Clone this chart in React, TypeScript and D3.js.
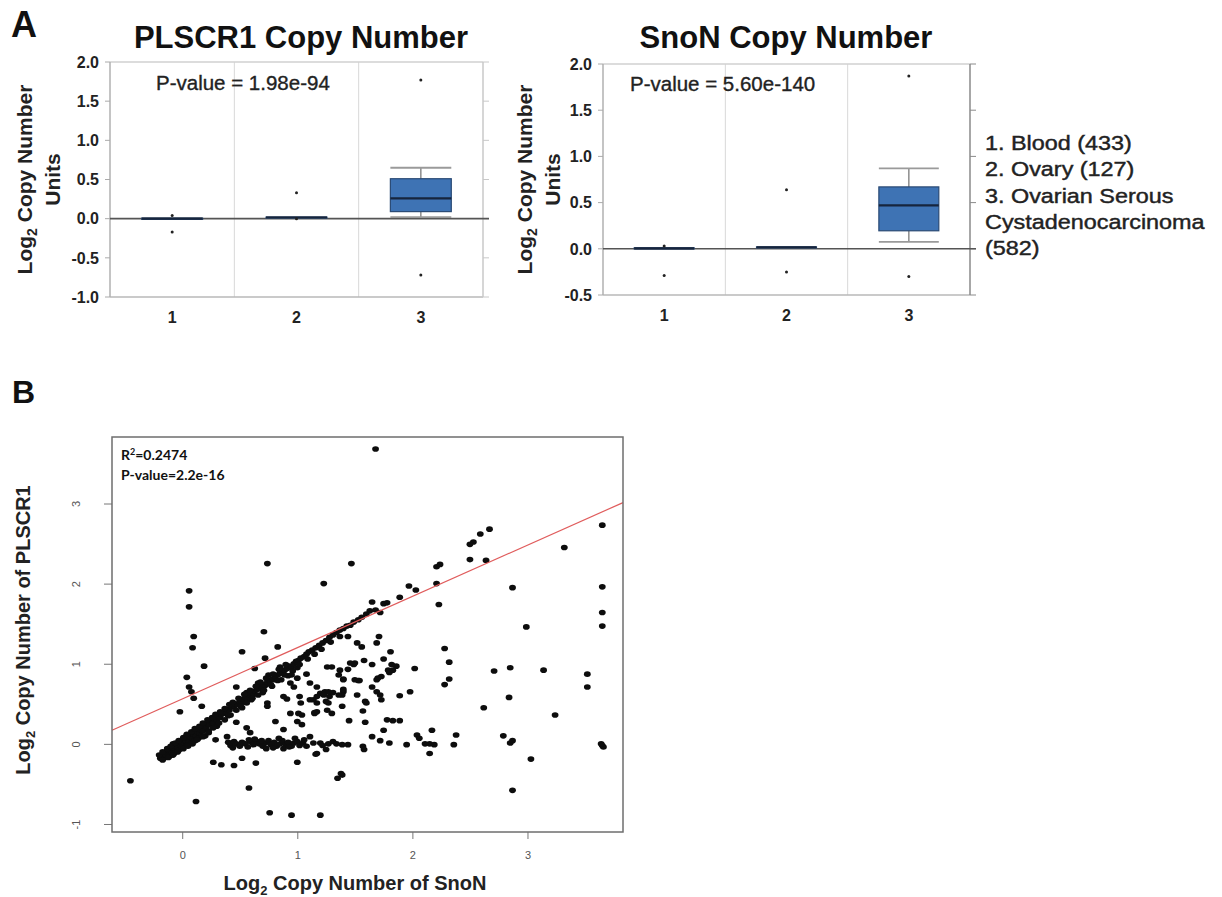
import { useEffect, useRef } from "react"
import * as d3 from "d3"

const FONT = "'Liberation Sans', Arial, Helvetica, sans-serif"

// ---- Panel A: box plots ----
const categories = ["1", "2", "3"]
const yTicksPlscr1 = [-1, -0.5, 0, 0.5, 1, 1.5, 2]
const yTicksSnon = [-0.5, 0, 0.5, 1, 1.5, 2]

// lo/hi = whisker ends, q1/med/q3 = box, out = outlier dots
const plscr1Stats = [
  { cat: "1", lo: -0.005, q1: -0.005, med: 0, q3: 0.005, hi: 0.005, out: [0.04, -0.17] },
  { cat: "2", lo: 0.01, q1: 0.01, med: 0.015, q3: 0.02, hi: 0.02, out: [0.33, 0.0] },
  { cat: "3", lo: 0.02, q1: 0.09, med: 0.26, q3: 0.51, hi: 0.65, out: [1.77, -0.72] },
]
const snonStats = [
  { cat: "1", lo: 0.0, q1: 0.0, med: 0.005, q3: 0.01, hi: 0.01, out: [0.03, -0.29] },
  { cat: "2", lo: 0.01, q1: 0.01, med: 0.015, q3: 0.02, hi: 0.02, out: [0.64, -0.25] },
  { cat: "3", lo: 0.075, q1: 0.195, med: 0.47, q3: 0.67, hi: 0.87, out: [1.87, -0.3] },
]
const legendLines = ["1. Blood (433)", "2. Ovary (127)", "3. Ovarian Serous", "Cystadenocarcinoma", "(582)"]

// ---- Panel B: scatter, [SnoN, PLSCR1] ----
const snonDomain = [-0.61, 3.83]
const plscr1Domain = [-1.1, 3.83]
const xTicksB = [0, 1, 2, 3]
const yTicksB = [-1, 0, 1, 2, 3]
const fitIntercept = 0.56
const fitSlope = 0.64

const diagonalPoints = [
  [-0.19, -0.18], [-0.18, -0.15], [-0.16, -0.13], [-0.15, -0.17], [-0.13, -0.1], [-0.12, -0.12], [-0.1, -0.08],
  [-0.09, -0.11], [-0.08, -0.05], [-0.06, -0.07], [-0.05, -0.02], [-0.04, -0.05], [-0.02, 0.0], [-0.01, -0.03],
  [0.0, 0.02], [0.01, 0.05], [0.02, 0.0], [0.03, 0.04], [0.05, 0.06], [0.06, 0.02], [0.07, 0.09], [0.09, 0.07],
  [0.1, 0.12], [0.12, 0.1], [0.13, 0.15], [0.15, 0.13], [0.16, 0.18], [0.18, 0.16], [0.19, 0.22], [0.21, 0.2],
  [0.22, 0.25], [0.24, 0.24], [0.25, 0.28], [0.27, 0.26], [0.28, 0.31], [0.3, 0.3], [0.31, 0.34], [0.33, 0.33],
  [0.34, 0.37], [0.36, 0.38], [0.38, 0.4], [0.39, 0.43], [0.41, 0.42], [0.43, 0.46], [0.45, 0.47], [0.46, 0.5],
  [0.48, 0.49], [0.5, 0.53], [0.52, 0.52], [0.53, 0.56], [0.55, 0.58], [0.57, 0.57], [0.58, 0.61], [0.6, 0.63],
  [0.62, 0.62], [0.63, 0.66], [0.65, 0.68], [0.67, 0.69], [0.69, 0.71], [0.7, 0.74], [0.72, 0.73], [0.74, 0.77],
  [0.76, 0.79], [0.78, 0.81], [0.8, 0.8], [0.81, 0.84], [0.83, 0.86], [0.85, 0.88], [0.87, 0.9], [0.89, 0.92],
  [0.91, 0.94], [0.93, 0.97], [0.95, 0.96], [0.97, 1.0], [0.99, 1.03], [1.01, 1.04], [1.03, 1.07], [1.06, 1.09],
  [1.08, 1.12], [1.1, 1.15], [1.13, 1.17], [1.16, 1.2], [1.19, 1.23], [1.22, 1.26], [1.25, 1.29], [1.28, 1.33],
  [1.31, 1.36], [1.34, 1.39], [1.37, 1.42], [1.4, 1.44], [1.43, 1.47], [1.46, 1.48], [1.49, 1.52], [1.53, 1.55],
  [1.56, 1.58], [1.6, 1.62], [1.63, 1.66],
  [0.52, 0.45], [0.6, 0.55], [0.7, 0.64], [0.78, 0.72], [0.86, 0.8], [0.4, 0.35], [0.3, 0.22], [0.2, 0.1],
  [0.92, 0.85], [1.0, 0.95], [0.66, 0.76], [0.75, 0.86], [0.56, 0.64], [0.85, 0.96],
  [-0.17, -0.2], [-0.14, -0.14], [-0.11, -0.15], [-0.07, -0.12], [-0.03, -0.08], [0.0, -0.05], [0.04, -0.02],
  [0.08, 0.01], [0.11, 0.04], [0.14, 0.07], [0.17, 0.1], [0.04, 0.1], [-0.08, 0.0], [0.23, 0.16],
  // upper edge of the band
  [-0.2, -0.14], [-0.17, -0.1], [-0.13, -0.06], [-0.1, -0.03], [-0.06, 0.01], [-0.03, 0.04], [0.01, 0.08],
  [0.04, 0.12], [0.08, 0.15], [0.11, 0.19], [0.15, 0.22], [0.18, 0.26], [0.22, 0.3], [0.26, 0.33], [0.29, 0.37],
  [0.33, 0.4], [0.37, 0.44], [0.41, 0.49], [0.44, 0.52], [0.49, 0.57], [0.54, 0.62], [0.59, 0.67], [0.64, 0.72],
  [0.68, 0.77], [0.73, 0.82], [0.79, 0.87], [0.84, 0.93], [0.9, 0.99],
  // lower edge of the band
  [-0.12, -0.17], [-0.08, -0.14], [-0.04, -0.1], [0.01, -0.06], [0.05, -0.03], [0.09, 0.0], [0.13, 0.05],
  [0.18, 0.09], [0.23, 0.14], [0.27, 0.2], [0.32, 0.26], [0.37, 0.3], [0.42, 0.36], [0.47, 0.42], [0.51, 0.47],
  [0.56, 0.51], [0.61, 0.57], [0.66, 0.61], [0.71, 0.67], [0.77, 0.74], [0.83, 0.79], [0.89, 0.86], [0.96, 0.91],
  [1.02, 0.99], [1.09, 1.06], [1.15, 1.12], [1.21, 1.18], [1.29, 1.27],
]

const zeroBandPoints = [
  [0.4, 0.02], [0.42, -0.02], [0.45, 0.03], [0.47, 0.0], [0.5, -0.03], [0.52, 0.02], [0.55, 0.0], [0.57, -0.04],
  [0.6, 0.02], [0.62, -0.01], [0.65, 0.03], [0.67, 0.0], [0.7, -0.03], [0.72, 0.01], [0.75, 0.04], [0.77, -0.01],
  [0.8, 0.02], [0.82, -0.03], [0.85, 0.0], [0.87, 0.04], [0.9, -0.01], [0.92, 0.02], [0.95, -0.03], [0.97, 0.01],
  [1.0, 0.03], [1.02, -0.02], [1.05, 0.01], [1.08, -0.03], [1.2, 0.01], [1.22, -0.02], [0.98, 0.07], [0.84, 0.07],
  [0.63, 0.06], [0.73, -0.06], [0.88, -0.06], [0.44, -0.05], [0.58, 0.05], [0.69, 0.04], [0.79, -0.05],
  [0.93, -0.04], [1.06, 0.05],
]

const scatteredPoints = [
  [0.74, 2.25], [1.47, 2.25], [1.23, 2.0], [0.06, 1.91], [0.06, 1.71], [0.1, 1.34], [0.09, 1.2], [0.71, 1.4],
  [0.52, 1.15], [0.83, 1.21], [0.19, 0.97], [0.63, 0.94], [0.72, 1.07], [0.04, 0.83], [0.06, 0.71], [0.47, 0.71],
  [1.68, 3.68], [3.65, 2.73], [3.32, 2.45], [2.67, 2.68], [2.59, 2.62], [2.53, 2.52], [2.5, 2.49], [2.5, 2.3],
  [2.64, 2.29], [2.24, 2.24], [2.21, 2.21], [2.21, 2.0], [2.23, 1.74], [1.97, 1.97], [2.03, 1.92], [1.89, 1.83],
  [2.87, 1.95], [3.65, 1.96], [3.65, 1.64], [3.65, 1.47], [2.99, 1.46], [1.78, 1.76], [1.75, 1.75], [1.65, 1.77],
  [1.68, 1.67], [1.72, 1.64], [1.71, 1.34], [1.69, 1.26], [1.81, 1.15], [1.75, 1.06], [1.86, 0.97], [1.83, 0.92],
  [1.8, 0.89], [1.73, 0.84], [1.69, 0.8], [1.65, 0.99], [1.58, 1.04], [1.5, 1.01], [1.49, 0.99], [1.37, 0.92],
  [1.44, 0.93], [1.4, 0.81], [1.5, 0.8], [1.54, 0.79], [1.65, 0.71], [2.02, 0.94], [2.28, 1.19], [2.32, 1.02],
  [2.32, 0.81], [2.28, 0.74], [2.71, 0.91], [2.85, 0.95], [3.14, 0.92], [3.52, 0.87], [3.52, 0.71], [2.62, 0.45],
  [2.84, 0.58], [3.24, 0.36], [3.03, -0.19], [2.87, -0.58], [3.65, -0.02], [3.66, -0.04], [3.64, 0.0],
  [2.79, 0.1], [2.85, 0.01], [2.87, 0.04], [2.38, 0.11], [2.36, -0.01], [2.17, 0.17], [2.15, 0.0], [2.19, -0.01],
  [2.11, 0.0], [2.15, -0.12], [2.04, 0.11], [2.06, 0.07], [1.95, -0.01], [1.98, 0.65], [1.89, 0.6], [1.83, 0.29],
  [1.78, 0.3], [1.89, 0.29], [1.75, 0.17], [1.65, 0.09], [1.72, 0.04], [1.8, 0.01], [1.57, -0.03], [1.58, -0.07],
  [1.44, -0.01], [1.39, -0.01], [1.45, 0.29], [1.59, 0.27], [1.57, 0.41], [1.59, 0.53], [1.6, 0.51], [1.52, 0.61],
  [1.4, 0.65], [1.39, 0.61], [1.69, 0.65], [1.72, 0.61], [1.73, 0.55], [1.53, 0.79], [1.4, 0.8], [1.39, 0.47],
  [1.39, -0.39], [1.46, 1.01], [1.82, 0.99], [1.79, 0.92], [1.7, 0.82], [-0.45, -0.46], [0.12, -0.72],
  [0.58, -0.55], [0.76, -0.86], [0.95, -0.89], [1.2, -0.89], [1.35, -0.43], [1.38, -0.37], [1.0, -0.23],
  [1.16, -0.13], [0.64, -0.24], [0.45, -0.27], [0.52, -0.18], [0.27, -0.23], [0.34, -0.26], [0.29, 0.05],
  [-0.02, 0.4], [0.08, 0.65], [0.1, 0.57], [0.17, 0.47], [0.47, 0.27], [0.39, 0.09], [0.56, 0.2], [0.59, 0.14],
  [0.81, 0.28], [0.88, 0.18], [1.04, 0.36], [1.04, 0.24], [0.94, 0.38], [1.01, 0.38], [1.0, 0.28], [0.74, 0.51],
  [0.74, 0.47], [0.88, 0.59], [0.91, 0.56], [1.02, 0.59], [1.03, 0.51], [1.11, 0.55], [1.17, 0.51], [1.2, 0.63],
  [1.24, 0.65], [1.28, 0.59], [1.15, 0.38], [1.17, 0.4], [1.26, 0.42], [0.94, 0.76], [0.97, 0.71], [1.0, 0.82],
  [0.95, 0.86], [1.08, 0.87], [1.11, 0.76], [1.26, 0.96], [1.17, 0.71], [1.3, 0.96], [1.36, 0.86], [1.4, 0.68],
  [1.36, 0.61], [1.31, 0.64], [1.27, 0.65], [1.23, 0.61], [1.17, 0.59], [1.14, 0.55], [1.25, 0.53], [1.27, 0.51],
  [1.15, 0.39], [1.3, 0.38], [1.27, 0.0], [1.31, 0.03], [1.34, 0.0], [1.11, 0.09], [1.14, 0.01], [1.17, -0.12],
  [1.25, -0.07], [1.37, 1.34], [1.44, 1.34], [1.52, 1.26], [1.56, 1.21],
]

// hyphen instead of the unicode minus, as in the source figure
const fmt = (f: string) => (d: number) => d3.format(f)(d).replace("\u2212", "-")

function drawBoxPanel(svg: any, cfg: any) {
  const { left, right, top, bottom, domain, ticks, stats } = cfg
  const x = d3.scaleBand().domain(categories).range([left, right])
  const y = d3.scaleLinear().domain(domain).range([bottom, top])
  const g = svg.append("g")

  // vertical separators between categories
  g.selectAll(".sep")
    .data(categories.slice(1))
    .enter()
    .append("line")
    .attr("x1", (d: string) => x(d))
    .attr("x2", (d: string) => x(d))
    .attr("y1", top)
    .attr("y2", bottom)
    .attr("stroke", "#d8d8d8")

  // frame
  g.append("line").attr("x1", left).attr("x2", right).attr("y1", top).attr("y2", top).attr("stroke", "#d0d0d0").attr("stroke-width", 1.5)
  g.append("line").attr("x1", left).attr("x2", right).attr("y1", bottom).attr("y2", bottom).attr("stroke", "#b8b8b8").attr("stroke-width", 1.5)
  g.append("line").attr("x1", left).attr("x2", left).attr("y1", top).attr("y2", bottom).attr("stroke", "#b0b0b0").attr("stroke-width", 1.5)
  g.append("line").attr("x1", right).attr("x2", right).attr("y1", top).attr("y2", bottom).attr("stroke", cfg.rightColor).attr("stroke-width", 1.5)

  // tick marks
  g.selectAll(".tl")
    .data(ticks)
    .enter()
    .append("line")
    .attr("x1", left - 5)
    .attr("x2", left)
    .attr("y1", (d: number) => y(d))
    .attr("y2", (d: number) => y(d))
    .attr("stroke", "#aaa")
  g.selectAll(".tr")
    .data(ticks)
    .enter()
    .append("line")
    .attr("x1", right)
    .attr("x2", right + 6)
    .attr("y1", (d: number) => y(d))
    .attr("y2", (d: number) => y(d))
    .attr("stroke", cfg.rightColor)

  // zero line
  g.append("line")
    .attr("x1", left)
    .attr("x2", right + 6)
    .attr("y1", y(0))
    .attr("y2", y(0))
    .attr("stroke", "#555")
    .attr("stroke-width", 1.6)

  // tick labels
  g.selectAll(".ytl")
    .data(ticks)
    .enter()
    .append("text")
    .attr("x", left - 11)
    .attr("y", (d: number) => y(d))
    .attr("dy", "0.36em")
    .attr("text-anchor", "end")
    .style("font-family", FONT)
    .style("font-size", "16px")
    .style("font-weight", "bold")
    .attr("fill", "#222")
    .text(fmt(".1f"))

  g.selectAll(".xtl")
    .data(categories)
    .enter()
    .append("text")
    .attr("x", (d: string) => (x(d) as number) + x.bandwidth() / 2)
    .attr("y", bottom + 26)
    .attr("text-anchor", "middle")
    .style("font-family", FONT)
    .style("font-size", "16px")
    .style("font-weight", "bold")
    .attr("fill", "#222")
    .text((d: string) => d)

  // boxes
  const bw = x.bandwidth() * 0.49
  stats.forEach((s: any) => {
    const cx = (x(s.cat) as number) + x.bandwidth() / 2
    g.append("line").attr("x1", cx).attr("x2", cx).attr("y1", y(s.lo)).attr("y2", y(s.q1)).attr("stroke", "#8c8c8c").attr("stroke-width", 1.5)
    g.append("line").attr("x1", cx).attr("x2", cx).attr("y1", y(s.q3)).attr("y2", y(s.hi)).attr("stroke", "#8c8c8c").attr("stroke-width", 1.5)
    ;[s.lo, s.hi].forEach((v: number) => {
      g.append("line")
        .attr("x1", cx - bw / 2)
        .attr("x2", cx + bw / 2)
        .attr("y1", y(v))
        .attr("y2", y(v))
        .attr("stroke", "#9a9a9a")
        .attr("stroke-width", 1.8)
    })
    g.append("rect")
      .attr("x", cx - bw / 2)
      .attr("y", y(s.q3))
      .attr("width", bw)
      .attr("height", Math.max(y(s.q1) - y(s.q3), 1))
      .attr("fill", "#3e73b4")
      .attr("stroke", "#2a4a74")
      .attr("stroke-width", 1.2)
    g.append("line")
      .attr("x1", cx - bw / 2)
      .attr("x2", cx + bw / 2)
      .attr("y1", y(s.med))
      .attr("y2", y(s.med))
      .attr("stroke", "#16253d")
      .attr("stroke-width", 2.2)
    g.selectAll(null)
      .data(s.out)
      .enter()
      .append("circle")
      .attr("cx", cx)
      .attr("cy", (d: number) => y(d))
      .attr("r", 1.5)
      .attr("fill", "#222")
  })

  // title
  g.append("text")
    .attr("x", cfg.titleX)
    .attr("y", 48)
    .attr("text-anchor", "middle")
    .style("font-family", FONT)
    .style("font-size", "31px")
    .style("font-weight", "bold")
    .attr("fill", "#111")
    .text(cfg.title)

  // p-value
  g.append("text")
    .attr("x", cfg.pX)
    .attr("y", cfg.pY)
    .style("font-family", FONT)
    .style("font-size", "20.5px")
    .attr("fill", "#222")
    .attr("stroke", "#222")
    .attr("stroke-width", 0.35)
    .text(cfg.pValue)

  // y axis label, two lines
  const midY = (top + bottom) / 2
  const lab = g
    .append("text")
    .attr("transform", `translate(${cfg.labelX1},${midY}) rotate(-90)`)
    .attr("text-anchor", "middle")
    .style("font-family", FONT)
    .style("font-size", "21px")
    .style("font-weight", "bold")
    .attr("fill", "#222")
  lab.append("tspan").text("Log")
  lab.append("tspan").attr("dy", 5).style("font-size", "14px").text("2")
  lab.append("tspan").attr("dy", -5).text(" Copy Number")
  g.append("text")
    .attr("transform", `translate(${cfg.labelX2},${midY}) rotate(-90)`)
    .attr("text-anchor", "middle")
    .style("font-family", FONT)
    .style("font-size", "21px")
    .style("font-weight", "bold")
    .attr("fill", "#222")
    .text("Units")
}

export default function App() {
  const svgRef = useRef<SVGSVGElement>(null)

  useEffect(() => {
    if (!svgRef.current) return
    const svg = d3.select(svgRef.current)
    svg.selectAll("*").remove()

    // panel letters
    svg.append("text").attr("x", 11).attr("y", 37).style("font-family", FONT).style("font-size", "36px").style("font-weight", "bold").attr("fill", "#111").text("A")
    svg.append("text").attr("x", 12).attr("y", 403).style("font-family", FONT).style("font-size", "32px").style("font-weight", "bold").attr("fill", "#111").text("B")

    drawBoxPanel(svg, {
      left: 110, right: 483, top: 62, bottom: 297,
      domain: [-1, 2], ticks: yTicksPlscr1, stats: plscr1Stats,
      title: "PLSCR1 Copy Number", titleX: 301,
      pValue: "P-value = 1.98e-94", pX: 156, pY: 90,
      labelX1: 32, labelX2: 60, rightColor: "#c8c8c8",
    })
    drawBoxPanel(svg, {
      left: 603, right: 970, top: 64, bottom: 295,
      domain: [-0.5, 2], ticks: yTicksSnon, stats: snonStats,
      title: "SnoN Copy Number", titleX: 786,
      pValue: "P-value = 5.60e-140", pX: 630, pY: 91,
      labelX1: 532, labelX2: 560, rightColor: "#8a8a8a",
    })

    // legend
    const legend = svg.append("g").attr("transform", "translate(985,0) scale(1.2,1)")
    legend
      .selectAll("text")
      .data(legendLines)
      .enter()
      .append("text")
      .attr("x", 0)
      .attr("y", (_d: string, i: number) => 150 + i * 26.3)
      .style("font-family", FONT)
      .style("font-size", "19.5px")
      .attr("fill", "#222")
      .attr("stroke", "#222")
      .attr("stroke-width", 0.4)
      .text((d: string) => d)

    // ---- scatter ----
    const L = 112, R = 623, T = 437, B = 832
    const sx = d3.scaleLinear().domain(snonDomain).range([L, R])
    const sy = d3.scaleLinear().domain(plscr1Domain).range([B, T])

    const xAxis = svg
      .append("g")
      .attr("transform", `translate(0,${B})`)
      .call(d3.axisBottom(sx).tickValues(xTicksB).tickSize(7).tickPadding(12).tickFormat(fmt("d")))
    xAxis.select(".domain").remove()
    xAxis.selectAll("line").attr("stroke", "#777")
    xAxis.selectAll("text").attr("fill", "#555").style("font-size", "11px").style("font-family", FONT)

    const yAxis = svg
      .append("g")
      .attr("transform", `translate(${L},0)`)
      .call(d3.axisLeft(sy).tickValues(yTicksB).tickSize(8).tickFormat(fmt("d")))
    yAxis.select(".domain").remove()
    yAxis.selectAll("line").attr("stroke", "#777")
    yAxis
      .selectAll("text")
      .attr("transform", "rotate(-90)")
      .attr("x", 0)
      .attr("y", -32)
      .attr("dy", 0)
      .attr("text-anchor", "middle")
      .attr("fill", "#555")
      .style("font-size", "11px")
      .style("font-family", FONT)

    const allPoints = [...diagonalPoints, ...zeroBandPoints, ...scatteredPoints]
    svg
      .append("g")
      .selectAll("ellipse")
      .data(allPoints)
      .enter()
      .append("ellipse")
      .attr("cx", (d: number[]) => sx(d[0]))
      .attr("cy", (d: number[]) => sy(d[1]))
      .attr("rx", 3.4)
      .attr("ry", 2.8)
      .attr("fill", "#0d0d0d")

    // regression line
    const fit = d3
      .line<number>()
      .x((d) => sx(d))
      .y((d) => sy(fitIntercept + fitSlope * d))
    svg
      .append("path")
      .datum(snonDomain)
      .attr("d", fit)
      .attr("fill", "none")
      .attr("stroke", "#e05c5c")
      .attr("stroke-width", 1.2)

    // frame
    svg
      .append("rect")
      .attr("x", L)
      .attr("y", T)
      .attr("width", R - L)
      .attr("height", B - T)
      .attr("fill", "none")
      .attr("stroke", "#6e6e6e")
      .attr("stroke-width", 1.5)

    // stats text
    const r2 = svg
      .append("text")
      .attr("x", 121)
      .attr("y", 460)
      .style("font-family", "Lato, 'Open Sans', sans-serif")
      .style("font-size", "14px")
      .style("font-weight", "bold")
      .attr("fill", "#111")
    r2.append("tspan").text("R")
    r2.append("tspan").attr("dy", -5).style("font-size", "9px").text("2")
    r2.append("tspan").attr("dy", 5).text("=0.2474")
    svg
      .append("text")
      .attr("x", 121)
      .attr("y", 480)
      .style("font-family", "Lato, 'Open Sans', sans-serif")
      .style("font-size", "14px")
      .style("font-weight", "bold")
      .attr("fill", "#111")
      .text("P-value=2.2e-16")

    // axis titles
    const xt = svg
      .append("text")
      .attr("x", 355)
      .attr("y", 890)
      .attr("text-anchor", "middle")
      .style("font-family", FONT)
      .style("font-size", "20px")
      .style("font-weight", "bold")
      .attr("fill", "#222")
    xt.append("tspan").text("Log")
    xt.append("tspan").attr("dy", 5).style("font-size", "13px").text("2")
    xt.append("tspan").attr("dy", -5).text(" Copy Number of SnoN")

    const yt = svg
      .append("text")
      .attr("transform", "translate(30,630) rotate(-90)")
      .attr("text-anchor", "middle")
      .style("font-family", FONT)
      .style("font-size", "20px")
      .style("font-weight", "bold")
      .attr("fill", "#222")
    yt.append("tspan").text("Log")
    yt.append("tspan").attr("dy", 5).style("font-size", "13px").text("2")
    yt.append("tspan").attr("dy", -5).text(" Copy Number of PLSCR1")
  }, [])

  return (
    <svg
      ref={svgRef}
      width={1222}
      height={897}
      style={{ position: "absolute", left: 0, top: 0, background: "#fff" }}
    ></svg>
  )
}
